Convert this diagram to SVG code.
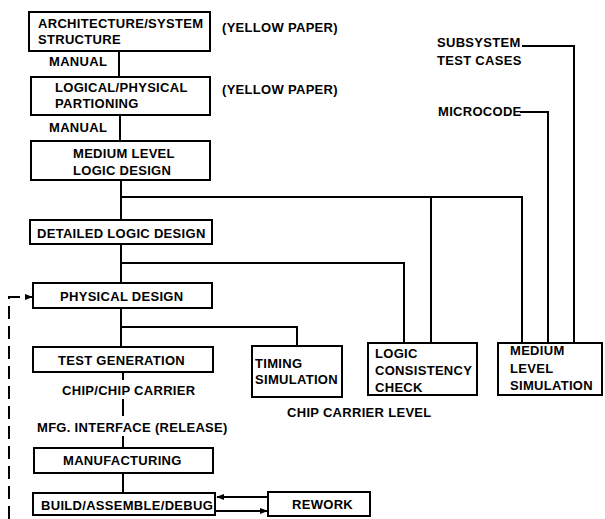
<svg xmlns="http://www.w3.org/2000/svg" width="605" height="519" viewBox="0 0 605 519">
<defs>
<style>
text{font-family:"Liberation Sans",Arial,sans-serif;font-weight:bold;font-size:13px;letter-spacing:0.3px;fill:#000}
.box{fill:#fff;stroke:#000;stroke-width:2}
.ln{fill:none;stroke:#000;stroke-width:2}
.dash{fill:none;stroke:#000;stroke-width:2;stroke-dasharray:13,7}
</style>
<marker id="ah" viewBox="0 0 10 10" refX="9" refY="5" markerWidth="8" markerHeight="8" markerUnits="userSpaceOnUse" orient="auto">
<path d="M0,1 L10,5 L0,9 z" fill="#000"/>
</marker>
</defs>
<rect width="605" height="519" fill="#fff"/>
<g id="connectors">
<path class="ln" d="M119,51 V77"/>
<path class="ln" d="M120,115 V141"/>
<path class="ln" d="M121,180 V220"/>
<path class="ln" d="M121,197 H522 V343"/>
<path class="ln" d="M431,197 V343"/>
<path class="ln" d="M121,244 V283"/>
<path class="ln" d="M121,263 H404 V343"/>
<path class="ln" d="M121,308 V347"/>
<path class="ln" d="M121,327 H297 V346"/>
<path class="ln" d="M123,372 V380"/>
<path class="ln" d="M123,399 V416"/>
<path class="ln" d="M123,436 V448"/>
<path class="ln" d="M123,473 V493"/>
<path class="ln" d="M520,112 H548 V343"/>
<path class="ln" d="M522,46 H574 V343"/>
<path class="ln" d="M268,497 H217" marker-end="url(#ah)"/>
<path class="ln" d="M215,511 H267" marker-end="url(#ah)"/>
<path class="dash" d="M9,519 V297 H32" marker-end="url(#ah)"/>
</g>
<g id="arch"><rect class="box" x="29" y="12" width="181" height="39"/><text x="38" y="28">ARCHITECTURE/SYSTEM</text><text x="38" y="44">STRUCTURE</text></g>
<text x="222" y="32">(YELLOW PAPER)</text>
<text x="49" y="66">MANUAL</text>
<g id="partition"><rect class="box" x="31" y="77" width="179" height="38"/><text x="55" y="92">LOGICAL/PHYSICAL</text><text x="55" y="108">PARTIONING</text></g>
<text x="222" y="94">(YELLOW PAPER)</text>
<text x="49" y="132">MANUAL</text>
<g id="mlld"><rect class="box" x="31" y="141" width="179" height="39"/><text x="73" y="158">MEDIUM LEVEL</text><text x="73" y="175">LOGIC DESIGN</text></g>
<g id="dld"><rect class="box" x="30" y="220" width="182" height="24"/><text x="37" y="238">DETAILED LOGIC DESIGN</text></g>
<g id="pd"><rect class="box" x="33" y="283" width="179" height="25"/><text x="60" y="301">PHYSICAL DESIGN</text></g>
<g id="tg"><rect class="box" x="33" y="347" width="180" height="25"/><text x="58" y="365">TEST GENERATION</text></g>
<text x="62" y="395">CHIP/CHIP CARRIER</text>
<text x="37" y="432">MFG. INTERFACE (RELEASE)</text>
<g id="mfg"><rect class="box" x="34" y="448" width="179" height="25"/><text x="63" y="465">MANUFACTURING</text></g>
<g id="bad"><rect class="box" x="33" y="493" width="182" height="22"/><text x="41" y="510">BUILD/ASSEMBLE/DEBUG</text></g>
<g id="rework"><rect class="box" x="268" y="492" width="102" height="24"/><text x="292" y="509">REWORK</text></g>
<g id="timing"><rect class="box" x="252" y="346" width="90" height="51"/><text x="255" y="368">TIMING</text><text x="255" y="384">SIMULATION</text></g>
<g id="lcc"><rect class="box" x="368" y="343" width="109" height="52"/><text x="375" y="358">LOGIC</text><text x="375" y="375">CONSISTENCY</text><text x="375" y="392">CHECK</text></g>
<g id="mls"><rect class="box" x="498" y="343" width="104" height="52"/><text x="510" y="355">MEDIUM</text><text x="510" y="373">LEVEL</text><text x="510" y="390">SIMULATION</text></g>
<text x="287" y="417">CHIP CARRIER LEVEL</text>
<g id="subsys"><text x="437" y="47">SUBSYSTEM</text><text x="437" y="65">TEST CASES</text></g>
<g id="microcode"><text x="438" y="116">MICROCODE</text></g>
</svg>
